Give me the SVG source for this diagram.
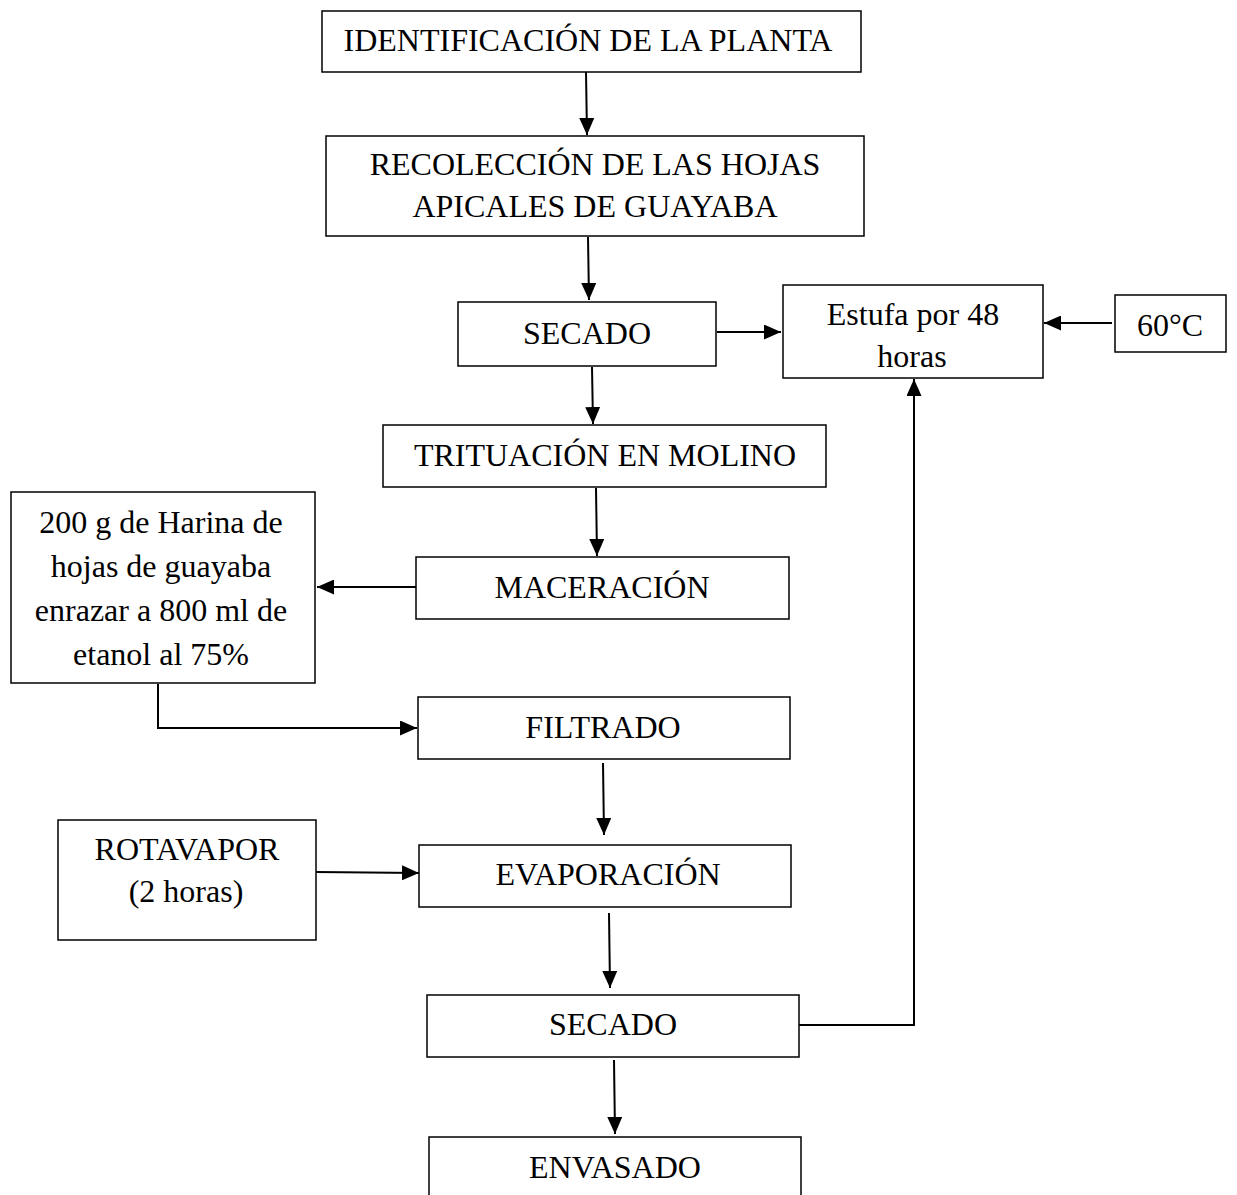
<svg xmlns="http://www.w3.org/2000/svg" width="1237" height="1195" viewBox="0 0 1237 1195">
  <style>
    .box { fill: #ffffff; stroke: #000000; stroke-width: 1.5; }
    .lbl { font-family: "Liberation Serif", "Times New Roman", serif; font-size: 32px; fill: #000000; text-anchor: middle; }
    .con { fill: none; stroke: #000000; stroke-width: 2; }
  </style>
  <defs>
    <marker id="ah" markerUnits="userSpaceOnUse" markerWidth="17" markerHeight="15" refX="17" refY="7.5" orient="auto">
      <path d="M0,0 L17,7.5 L0,15 z" fill="#000000"/>
    </marker>
  </defs>
  <rect width="1237" height="1195" fill="#ffffff"/>

  <g id="n1">
    <rect class="box" x="322" y="11" width="539" height="61"/>
    <text class="lbl" x="588" y="51">IDENTIFICACIÓN DE LA PLANTA</text>
  </g>
  <g id="n2">
    <rect class="box" x="326" y="136" width="538" height="100"/>
    <text class="lbl" x="595" y="175">RECOLECCIÓN DE LAS HOJAS</text>
    <text class="lbl" x="595" y="217">APICALES DE GUAYABA</text>
  </g>
  <g id="n3">
    <rect class="box" x="458" y="302" width="258" height="64"/>
    <text class="lbl" x="587" y="344">SECADO</text>
  </g>
  <g id="n4">
    <rect class="box" x="783" y="285" width="260" height="93"/>
    <text class="lbl" x="913" y="325">Estufa por 48</text>
    <text class="lbl" x="912" y="367">horas</text>
  </g>
  <g id="n5">
    <rect class="box" x="1115" y="295" width="111" height="57"/>
    <text class="lbl" x="1170" y="336">60°C</text>
  </g>
  <g id="n6">
    <rect class="box" x="383" y="425" width="443" height="62"/>
    <text class="lbl" x="605" y="466">TRITUACIÓN EN MOLINO</text>
  </g>
  <g id="n7">
    <rect class="box" x="416" y="557" width="373" height="62"/>
    <text class="lbl" x="602" y="598">MACERACIÓN</text>
  </g>
  <g id="n8">
    <rect class="box" x="11" y="492" width="304" height="191"/>
    <text class="lbl" x="161" y="533">200 g de Harina de</text>
    <text class="lbl" x="161" y="577">hojas de guayaba</text>
    <text class="lbl" x="161" y="621">enrazar a 800 ml de</text>
    <text class="lbl" x="161" y="665">etanol al 75%</text>
  </g>
  <g id="n9">
    <rect class="box" x="418" y="697" width="372" height="62"/>
    <text class="lbl" x="603" y="738">FILTRADO</text>
  </g>
  <g id="n10">
    <rect class="box" x="58" y="820" width="258" height="120"/>
    <text class="lbl" x="187" y="860">ROTAVAPOR</text>
    <text class="lbl" x="186" y="902">(2 horas)</text>
  </g>
  <g id="n11">
    <rect class="box" x="419" y="845" width="372" height="62"/>
    <text class="lbl" x="608" y="885">EVAPORACIÓN</text>
  </g>
  <g id="n12">
    <rect class="box" x="427" y="995" width="372" height="62"/>
    <text class="lbl" x="613" y="1035">SECADO</text>
  </g>
  <g id="n13">
    <rect class="box" x="429" y="1137" width="372" height="70"/>
    <text class="lbl" x="615" y="1178">ENVASADO</text>
  </g>

  <g id="connectors">
    <line class="con" x1="586" y1="72" x2="587" y2="135" marker-end="url(#ah)"/>
    <line class="con" x1="588" y1="237" x2="589" y2="300" marker-end="url(#ah)"/>
    <line class="con" x1="717" y1="332" x2="781" y2="332" marker-end="url(#ah)"/>
    <line class="con" x1="1112" y1="323" x2="1044" y2="323" marker-end="url(#ah)"/>
    <line class="con" x1="592" y1="367" x2="593" y2="424" marker-end="url(#ah)"/>
    <line class="con" x1="596" y1="488" x2="597" y2="556" marker-end="url(#ah)"/>
    <line class="con" x1="416" y1="587" x2="317" y2="587" marker-end="url(#ah)"/>
    <path class="con" d="M158,684 V728 H417" marker-end="url(#ah)"/>
    <line class="con" x1="603" y1="763" x2="604" y2="835" marker-end="url(#ah)"/>
    <line class="con" x1="316" y1="872" x2="419" y2="873" marker-end="url(#ah)"/>
    <line class="con" x1="609" y1="913" x2="610" y2="988" marker-end="url(#ah)"/>
    <path class="con" d="M799,1025 H914 V379" marker-end="url(#ah)"/>
    <line class="con" x1="614" y1="1060" x2="615" y2="1134" marker-end="url(#ah)"/>
  </g>
</svg>
